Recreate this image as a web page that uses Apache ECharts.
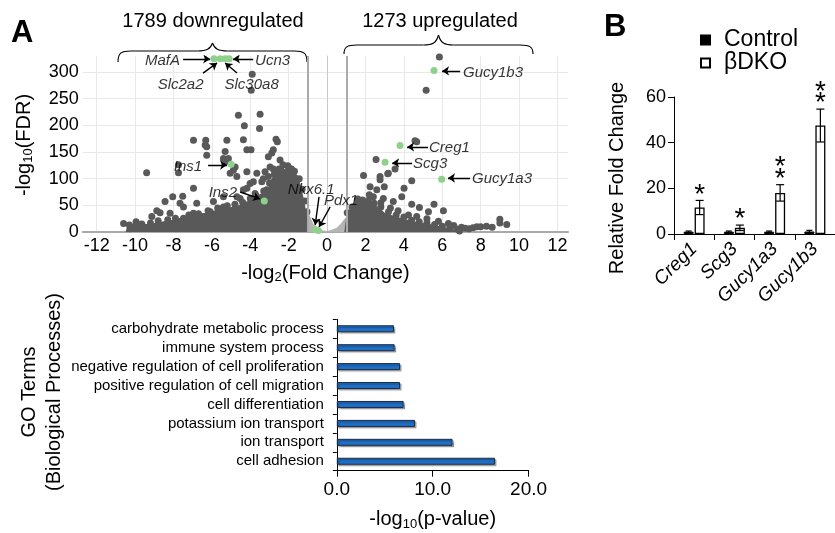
<!DOCTYPE html>
<html><head><meta charset="utf-8">
<script src="https://cdn.jsdelivr.net/npm/echarts@6/dist/echarts.min.js"></script>
<style>html,body{margin:0;padding:0;background:#fff}#c{width:835px;height:533px}</style>
</head><body><div id="c"></div>
<script>
const FONT = "'Liberation Sans', Arial, Helvetica, sans-serif";

// ---------- Panel A: volcano ----------
const volcanoXTicks = [-12,-10,-8,-6,-4,-2,0,2,4,6,8,10,12];
const volcanoYTicks = [0,50,100,150,200,250,300];
const fcThreshold = [-1, 1];
const greyPoints = [
 [-3.9,296],[-3.95,266],[-4.62,219],[-3.49,221],[-4.31,199],[-3.52,194],
 [-6.96,172],[-6.32,172],[-6.27,160],[-5.22,172],[-4.36,173],[-2.66,174],[-2.59,169],[-3.96,154],[-5.31,151],
 [-6.27,144],[-5.14,138],[-4.18,154],[-2.88,148],[-6.35,163],[-5.4,138],[-5.22,132],[-4.79,122],[-5.05,110],
 [-4.7,104],[-4.18,113],[-3.66,110],[-3.32,100],[-4.01,91],[-4.36,79],[-3.75,72],[-4.53,63],[-4.27,41],[-5.4,47],
 [-6.09,38],[-6.44,29],[-6.96,35],[-7.48,26],[-2.97,122],[-2.71,113],[-2.45,104],[-2.4,91],[-2.1,79],[-2.45,70],
 [-1.76,66],[-1.58,54],[-1.5,38],[-1.42,24],[-9.4,111],[-7.74,111],[-7.74,126],[-4.88,116],[-3.23,113],[-2.8,118],
 [-2.5,118],[-6.96,82],[-8.04,66],[-7.66,54],[-7.52,67],[-8.44,57],[-8.7,36],[-8.87,40],[-10.6,16],[-10.26,6],
 [-10.3,13],[-9.95,19],[-9.77,14],[-9.65,15],[-9.83,13],[-9.13,29],[-8.18,35],[-7.48,47],[-6.79,54],[-5.92,57],
 [-5.4,66],[-4.7,66],[-3.14,79],[-2.62,72],[-2.28,66],[-1.93,70],[-3.06,104],[-3.4,94],[-3.84,94],[-4.18,82],
 [-2.1,104],[-1.76,91],[-1.5,79],[-3.06,141],[-2.45,135],[-2.8,154],[-2.3,126],[-2.05,124],[-1.85,118],
 [-10.0,11],[-9.2,17],[-8.8,21],[-8.3,23],[-7.9,26],[-7.2,32],[-6.7,34],[-6.2,40],[-5.7,45],[-5.2,49],[-4.8,52],
 [-4.4,56],[-4.0,63],[-3.7,68],[-3.3,77],[-3.0,92],[-2.75,108],[-2.4,117],[-2.0,121],[-1.7,114],[-1.45,100],
 [-1.3,80],[-1.15,58],[-1.05,38],[-9.5,9],[-8.6,12],[-7.6,20],[-6.5,24],[-5.5,33],
 [5.85,328],[5.16,266],[4.58,171],[4.67,169],[2.55,136],[3.16,109],[3.54,118],[3.19,110],[1.9,106],[2.76,104],
 [2.76,98],[2.24,85],[2.98,85],[2.59,79],[4.01,82],[4.41,96],[3.89,66],[2.93,63],[3.45,57],[4.41,52],[4.81,46],
 [5.57,52],[5.28,38],[6.06,40],[4.24,32],[4.67,29],[5.2,25],[6.32,16],[7.19,7],[7.8,10],[8.3,11],[9.0,24],
 [9.0,17],[9.36,14],[7.0,9],[7.4,6],[8.0,10],[1.37,47],[1.72,57],[2.41,66],[1.9,41],[2.2,70],[1.6,62],[3.3,45],
 [3.7,40],[2.8,55],[6.6,12],[5.8,20],[8.6,9],[7.6,8],
 [1.05,36],[1.3,47],[1.6,54],[1.85,60],[2.15,59],[2.45,54],[2.8,47],[3.2,38],[3.6,32],[4.0,28],[4.4,22],[4.8,19],
 [5.2,17],[5.6,14],[6.0,11],[6.4,8],[6.8,5],[6.9,2]
];
const coreLeft = [[-10.5,0],[-10.4,11],[-9.5,14],[-9,17],[-8.5,20],[-8,23],[-7.5,27],[-7,30],[-6.5,34],[-6,39],
 [-5.5,44],[-5,47],[-4.5,51],[-4,61],[-3.5,71],[-3.1,80],[-2.9,100],[-2.6,112],[-2.2,118],[-1.8,115],[-1.5,105],
 [-1.35,85],[-1.2,60],[-1.05,30],[-0.95,0]];
const coreRight = [[0.9,0],[1.0,30],[1.2,45],[1.5,52],[1.8,58],[2.1,58],[2.4,52],[2.7,46],[3.0,36],[3.5,30],
 [4.0,25],[4.5,20],[5.0,17],[5.5,14],[6.0,10],[6.5,6],[6.8,3],[7.0,0]];
const nsRegion = [[-1.25,0],[-1.15,42],[-1.0,44],[-0.9,30],[-0.7,14],[-0.45,7],[-0.2,3],[0,2],[0.25,4],[0.5,8],
 [0.7,15],[0.85,22],[1.0,28],[1.1,0]];
const geneNames = ['MafA','Slc2a2','Slc30a8','Ucn3','Ins1','Ins2','Nkx6.1','Pdx1','Gucy1b3','Creg1','Scg3','Gucy1a3'];
const geneLog2FC = [-5.89,-5.57,-5.31,-5.10,-5.0,-3.27,-0.62,-0.45,5.57,3.8,3.02,5.97];
const geneFDR = [325,325,325,325,127,58,4,3,303,162,131,99];
// annotation text anchors and arrows (data units)
const annotText = ['MafA','Ucn3','Slc2a2','Slc30a8','Ins1','Ins2','Nkx6.1','Pdx1','Gucy1b3','Creg1','Scg3','Gucy1a3'];
const annotAt = [[-7.66,321],[-3.75,321],[-7.63,276],[-3.93,276],[-6.51,122],[-4.69,73],[-0.83,79],[0.73,58],
 [7.08,298],[5.31,157.6],[4.48,127.6],[7.55,99.4]];
const annotAlign = ['right','left','center','center','right','right','center','center','left','left','left','left'];
const arrowPaths = [[[-7.5,324.6],[-6.09,324.6]],[[-3.85,324.6],[-4.9,324.6]],[[-6.46,298],[-5.73,317]],
 [[-4.69,298],[-5.31,317]],[[-6.2,125.7],[-5.21,125.7]],[[-4.53,75],[-3.49,62]],[[-0.42,65.7],[-0.62,13]],
 [[0.16,47],[-0.42,9.4]],[[6.93,302],[5.99,302]],[[5.26,159.5],[4.17,159.5]],[[4.43,129.5],[3.39,129.5]],
 [[7.45,101.3],[6.3,101.3]]];

// ---------- GO terms ----------
const goTerms = ['carbohydrate metabolic process','immune system process','negative regulation of cell proliferation',
 'positive regulation of cell migration','cell differentiation','potassium ion transport','ion transport','cell adhesion'];
const goValues = [5.96, 6.03, 6.6, 6.6, 6.97, 8.16, 12.07, 16.5];

// ---------- Panel B ----------
const bGenes = ['Creg1','Scg3','Gucy1a3','Gucy1b3'];
const ctrlMean = [1.0, 1.0, 1.0, 1.1];
const ctrlErr = [0.3, 0.3, 0.3, 0.5];
const dkoMean = [11.6, 2.7, 18.0, 47.5];
const dkoErr = [3.1, 1.2, 3.6, 7.2];
const sigStars = [1, 1, 2, 2];

const chart = echarts.init(document.getElementById('c'));

function errRender(offset, capW, withStars) {
  return function (params, api) {
    const cat = api.value(0), m = api.value(1), e = api.value(2), st = api.value(3);
    const top = api.coord([cat, m + e]), bot = api.coord([cat, m - e]);
    const x = top[0] + offset;
    const ls = {stroke: '#000', lineWidth: 1.2};
    const ch = [
      {type: 'line', shape: {x1: x, y1: top[1], x2: x, y2: bot[1]}, style: ls},
      {type: 'line', shape: {x1: x - capW / 2, y1: top[1], x2: x + capW / 2, y2: top[1]}, style: ls},
      {type: 'line', shape: {x1: x - capW / 2, y1: bot[1], x2: x + capW / 2, y2: bot[1]}, style: ls}
    ];
    if (withStars) {
      for (let i = 0; i < st; i++) {
        ch.push({type: 'text', style: {text: '*', x: x, y: top[1] - 12 - 11.5 * i + 6.5, align: 'center',
          verticalAlign: 'middle', font: '28px ' + FONT, fill: '#000'}});
      }
    }
    return {type: 'group', children: ch};
  };
}

// curly brace decoration made of bezier segments
function brace(x0, x1, yEnd, yFlat, yPeak) {
  const xm = (x0 + x1) / 2;
  const st = {fill: 'none', stroke: '#000', lineWidth: 1.1};
  return [
    {type: 'bezierCurve', shape: {x1: x0, y1: yEnd, cpx1: x0, cpy1: yFlat + 2, cpx2: x0 + 3, cpy2: yFlat, x2: x0 + 13, y2: yFlat}, style: st},
    {type: 'line', shape: {x1: x0 + 13, y1: yFlat, x2: xm - 15, y2: yFlat}, style: st},
    {type: 'bezierCurve', shape: {x1: xm - 15, y1: yFlat, cpx1: xm - 6, cpy1: yFlat, cpx2: xm - 2, cpy2: yFlat - 2, x2: xm, y2: yPeak}, style: st},
    {type: 'bezierCurve', shape: {x1: xm, y1: yPeak, cpx1: xm + 2, cpy1: yFlat - 2, cpx2: xm + 6, cpy2: yFlat, x2: xm + 15, y2: yFlat}, style: st},
    {type: 'line', shape: {x1: xm + 15, y1: yFlat, x2: x1 - 13, y2: yFlat}, style: st},
    {type: 'bezierCurve', shape: {x1: x1 - 13, y1: yFlat, cpx1: x1 - 3, cpy1: yFlat, cpx2: x1, cpy2: yFlat + 2, x2: x1, y2: yEnd}, style: st}
  ];
}

const subRich = {s: {fontSize: 13, fontFamily: FONT, color: '#000', padding: [9, 0, 0, 0]}};

chart.setOption({
  animation: false,
  backgroundColor: '#fff',
  textStyle: {fontFamily: FONT, color: '#000'},
  grid: [
    {left: 82.7, top: 56, width: 485.3, height: 176},
    {left: 674, top: 97, width: 169, height: 137},
    {left: 336.8, top: 319.3, width: 191.8, height: 151.4}
  ],
  legend: {
    data: ['Control', 'βDKO'], orient: 'vertical', left: 700, top: 28.5, padding: 0, itemGap: 0,
    itemWidth: 9, itemHeight: 9, icon: 'rect',
    textStyle: {fontSize: 23, lineHeight: 23, fontFamily: FONT, color: '#000', padding: [0, 0, 0, 9]}
  },
  xAxis: [
    {gridIndex: 0, type: 'value', min: -12.73, max: 12.55,
     axisLine: {show: true, onZero: false, lineStyle: {color: '#aaaaaa', width: 2}},
     axisTick: {show: false, customValues: volcanoXTicks},
     axisLabel: {customValues: volcanoXTicks, fontSize: 18, color: '#000', margin: 5, fontFamily: FONT},
     splitLine: {show: true, lineStyle: {color: '#e8e8e8', width: 1}},
     name: '-log{s|2}(Fold Change)', nameLocation: 'middle', nameGap: 30,
     nameTextStyle: {fontSize: 20, color: '#000', fontFamily: FONT, rich: subRich}},
    {gridIndex: 1, type: 'category', data: bGenes,
     axisLine: {lineStyle: {color: '#000', width: 1}},
     axisTick: {show: true, length: 6, lineStyle: {color: '#000'}},
     axisLabel: {rotate: 45, fontSize: 19, fontStyle: 'italic', color: '#000', margin: 12, fontFamily: FONT, interval: 0}},
    {gridIndex: 2, type: 'value', min: 0, max: 20, interval: 10,
     axisLine: {show: true, lineStyle: {color: '#000', width: 1}},
     axisTick: {show: true, length: 6, lineStyle: {color: '#000'}},
     axisLabel: {fontSize: 19, color: '#000', margin: 10, fontFamily: FONT, formatter: v => v.toFixed(1)},
     splitLine: {show: false},
     name: '-log{s|10}(p-value)', nameLocation: 'middle', nameGap: 38,
     nameTextStyle: {fontSize: 20, color: '#000', fontFamily: FONT, rich: subRich}}
  ],
  yAxis: [
    {gridIndex: 0, type: 'value', min: 0, max: 330,
     axisLine: {show: true, lineStyle: {color: '#c8c8c8', width: 1}},
     axisTick: {show: false, customValues: volcanoYTicks},
     axisLabel: {customValues: volcanoYTicks, fontSize: 18, color: '#000', margin: 4, fontFamily: FONT},
     splitLine: {show: true, lineStyle: {color: '#e8e8e8', width: 1}}},
    {gridIndex: 1, type: 'value', min: 0, max: 60, interval: 20,
     axisLine: {show: true, lineStyle: {color: '#000', width: 1}},
     axisTick: {show: true, length: 6, lineStyle: {color: '#000'}},
     axisLabel: {fontSize: 18, color: '#000', margin: 8, fontFamily: FONT},
     splitLine: {show: false}},
    {gridIndex: 2, type: 'category', data: goTerms, inverse: true,
     axisLine: {show: true, lineStyle: {color: '#000', width: 1}},
     axisTick: {show: true, length: 4, lineStyle: {color: '#000'}},
     axisLabel: {fontSize: 15, color: '#000', margin: 13, fontFamily: FONT, interval: 0}}
  ],
  graphic: [
    {type: 'text', x: 11, y: 33, style: {text: 'A', font: 'bold 31px ' + FONT, fill: '#000', verticalAlign: 'middle'}},
    {type: 'text', x: 604, y: 27, style: {text: 'B', font: 'bold 31px ' + FONT, fill: '#000', verticalAlign: 'middle'}},
    {type: 'text', x: 213, y: 21, style: {text: '1789 downregulated', font: '20px ' + FONT, fill: '#000', align: 'center', verticalAlign: 'middle'}},
    {type: 'text', x: 440, y: 21, style: {text: '1273 upregulated', font: '20px ' + FONT, fill: '#000', align: 'center', verticalAlign: 'middle'}},
    ...brace(118, 307, 62, 51, 43),
    ...brace(344, 533, 54, 45, 35),
    {type: 'text', x: 24, y: 145, rotation: Math.PI / 2,
     style: {text: '-log{s|10}(FDR)', font: '20px ' + FONT, fill: '#000', align: 'center', verticalAlign: 'middle',
       rich: {s: {font: '13px ' + FONT, fill: '#000', padding: [9, 0, 0, 0]}}}},
    {type: 'text', x: 617, y: 178, rotation: Math.PI / 2,
     style: {text: 'Relative Fold Change', font: '20px ' + FONT, fill: '#000', align: 'center', verticalAlign: 'middle'}},
    {type: 'text', x: 42, y: 392, rotation: Math.PI / 2,
     style: {text: 'GO Terms\n(Biological Processes)', font: '20px ' + FONT, lineHeight: 25.5, fill: '#000', align: 'center', verticalAlign: 'middle'}}
  ],
  series: [
    {type: 'line', xAxisIndex: 0, yAxisIndex: 0, data: nsRegion, z: 1, symbol: 'none', silent: true,
     lineStyle: {width: 0}, areaStyle: {color: '#b4b4b4', opacity: 1},
     markLine: {silent: true, symbol: 'none', label: {show: false},
       lineStyle: {color: '#aaaaaa', width: 2, type: 'solid'}, data: fcThreshold.map(v => ({xAxis: v}))}},
    {type: 'line', xAxisIndex: 0, yAxisIndex: 0, data: coreLeft, z: 2, symbol: 'none', silent: true,
     lineStyle: {width: 0}, areaStyle: {color: '#595959', opacity: 1}},
    {type: 'line', xAxisIndex: 0, yAxisIndex: 0, data: coreRight, z: 2, symbol: 'none', silent: true,
     lineStyle: {width: 0}, areaStyle: {color: '#595959', opacity: 1}},
    {type: 'scatter', xAxisIndex: 0, yAxisIndex: 0, data: greyPoints, z: 3, symbolSize: 7, clip: false,
     itemStyle: {color: '#595959', opacity: 1}},
    {type: 'scatter', xAxisIndex: 0, yAxisIndex: 0, z: 4, symbolSize: 7, clip: false,
     data: geneNames.map((g, i) => ({name: g, value: [geneLog2FC[i], geneFDR[i]]})),
     itemStyle: {color: '#8fd18a', opacity: 1}},
    {type: 'lines', coordinateSystem: 'cartesian2d', xAxisIndex: 0, yAxisIndex: 0, z: 5, silent: true,
     symbol: ['none', 'arrow'], symbolSize: 7,
     lineStyle: {color: '#000', width: 1.4, opacity: 1, curveness: 0},
     data: arrowPaths.map(c => ({coords: c}))},
    {type: 'scatter', xAxisIndex: 0, yAxisIndex: 0, z: 6, symbolSize: 1, silent: true, clip: false,
     itemStyle: {color: 'rgba(0,0,0,0)'},
     data: annotText.map((t, i) => ({name: t, value: annotAt[i], label: {align: annotAlign[i]}})),
     label: {show: true, position: 'inside', formatter: p => p.name, fontSize: 15, fontStyle: 'italic',
       color: '#000', fontFamily: FONT, verticalAlign: 'middle'}},
    {type: 'bar', xAxisIndex: 2, yAxisIndex: 2, data: goValues, barWidth: 7,
     itemStyle: {color: '#1f6fc6', borderColor: '#1a2a40', borderWidth: 1,
       shadowColor: 'rgba(0,0,0,0.3)', shadowOffsetX: 1.5, shadowOffsetY: 1.5, shadowBlur: 1}},
    {type: 'bar', name: 'Control', xAxisIndex: 1, yAxisIndex: 1, data: ctrlMean, barWidth: 10, barGap: '10%',
     itemStyle: {color: '#000', borderColor: '#000', borderWidth: 1}},
    {type: 'bar', name: 'βDKO', xAxisIndex: 1, yAxisIndex: 1, data: dkoMean, barWidth: 10, barGap: '10%',
     itemStyle: {color: '#fff', borderColor: '#000', borderWidth: 1.3}},
    {type: 'custom', name: 'ctrlErr', xAxisIndex: 1, yAxisIndex: 1, z: 5, silent: true,
     renderItem: errRender(-5.5, 6, false),
     data: bGenes.map((g, i) => [i, ctrlMean[i], ctrlErr[i], 0])},
    {type: 'custom', name: 'dkoErr', xAxisIndex: 1, yAxisIndex: 1, z: 5, silent: true,
     renderItem: errRender(5.5, 8, true),
     data: bGenes.map((g, i) => [i, dkoMean[i], dkoErr[i], sigStars[i]])}
  ]
});
</script></body></html>
